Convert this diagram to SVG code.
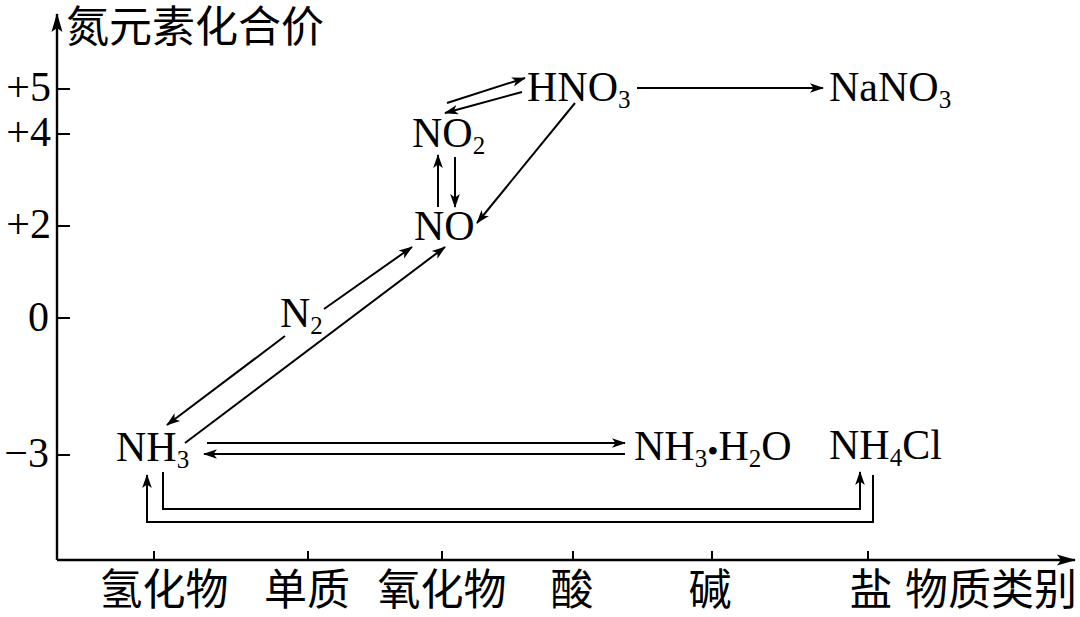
<svg xmlns="http://www.w3.org/2000/svg" width="1080" height="617" viewBox="0 0 1080 617">
<style>
.chem{font-family:"Liberation Serif","Times New Roman",serif;font-size:42px;fill:#000}
.sub{font-size:25px}
.cjk{font-family:"Noto Sans CJK SC",sans-serif;font-size:43px;fill:#000}
.tick{font-family:"Liberation Serif","Times New Roman",serif;font-size:42px;fill:#000;text-anchor:end}
.ax{stroke:#000;stroke-width:2.4;fill:none}
.ln{stroke:#000;stroke-width:2;fill:none;marker-end:url(#ah)}
.tk{stroke:#000;stroke-width:2;fill:none}
</style>
<defs>
<marker id="ah" viewBox="-13 -6 15 12" refX="0" refY="0" markerWidth="15" markerHeight="12" markerUnits="userSpaceOnUse" orient="auto">
<path d="M-13,-4.8 L1,0 L-13,4.8 L-9.5,0 z" fill="#000"/>
</marker>
<marker id="axh" viewBox="-18 -7 20 14" refX="0" refY="0" markerWidth="20" markerHeight="14" markerUnits="userSpaceOnUse" orient="auto">
<path d="M-18,-5.5 L1,0 L-18,5.5 L-14,0 z" fill="#000"/>
</marker>
</defs>
<rect width="1080" height="617" fill="#fff"/>

<g id="axes">
<path class="ax" d="M57,560 V14" marker-end="url(#axh)"/>
<path class="ax" d="M57,560 H1075" marker-end="url(#axh)"/>
<path class="tk" d="M57,89 H70 M57,134 H70 M57,226 H70 M57,318 H70 M57,455 H70"/>
<path class="tk" d="M154,560 V551 M308,560 V551 M442,560 V551 M573,560 V551 M712,560 V551 M868,560 V551"/>
<text class="cjk" x="66" y="42" font-size="42">氮元素化合价</text>
<text class="tick" x="51" y="101">+5</text>
<text class="tick" x="51" y="146">+4</text>
<text class="tick" x="51" y="238">+2</text>
<text class="tick" x="49" y="331">0</text>
<text class="tick" x="49" y="467">−3</text>
<text class="cjk" x="164" y="605" text-anchor="middle">氢化物</text>
<text class="cjk" x="307" y="605" text-anchor="middle">单质</text>
<text class="cjk" x="442" y="605" text-anchor="middle">氧化物</text>
<text class="cjk" x="572" y="605" text-anchor="middle">酸</text>
<text class="cjk" x="710" y="605" text-anchor="middle">碱</text>
<text class="cjk" x="871" y="605" text-anchor="middle">盐</text>
<text class="cjk" x="905" y="605">物质类别</text>
</g>

<g id="node-HNO3"><text class="chem" x="527" y="101">HNO<tspan class="sub" dy="7">3</tspan></text></g>
<g id="node-NaNO3"><text class="chem" x="829" y="101">NaNO<tspan class="sub" dy="7">3</tspan></text></g>
<g id="node-NO2"><text class="chem" x="412" y="147">NO<tspan class="sub" dy="7">2</tspan></text></g>
<g id="node-NO"><text class="chem" x="414" y="240">NO</text></g>
<g id="node-N2"><text class="chem" x="280" y="327">N<tspan class="sub" dy="7">2</tspan></text></g>
<g id="node-NH3"><text class="chem" x="116" y="461">NH<tspan class="sub" dy="7">3</tspan></text></g>
<g id="node-NH3H2O"><text class="chem" x="634" y="460">NH<tspan class="sub" dy="7">3</tspan><tspan dy="-5" font-size="32">•</tspan><tspan dy="-2">H</tspan><tspan class="sub" dy="7">2</tspan><tspan dy="-7">O</tspan></text></g>
<g id="node-NH4Cl"><text class="chem" x="829" y="459">NH<tspan class="sub" dy="7">4</tspan><tspan dy="-7">Cl</tspan></text></g>

<g id="connectors">
<path class="ln" d="M637,88 H823"/>
<path class="ln" d="M447,103 L525,78"/>
<path class="ln" d="M522,92 L445,113"/>
<path class="ln" d="M575,103 L477,223"/>
<path class="ln" d="M438,207 V155"/>
<path class="ln" d="M455,157 V207"/>
<path class="ln" d="M324,309 L412,247"/>
<path class="ln" d="M285,336 L167,425"/>
<path class="ln" d="M185,443 L445,247"/>
<path class="ln" d="M207,443 H625"/>
<path class="ln" d="M625,454 H204"/>
<path class="ln" d="M163,472 V509 H860 V472"/>
<path class="ln" d="M873,475 V522 H147 V475"/>
</g>
</svg>
